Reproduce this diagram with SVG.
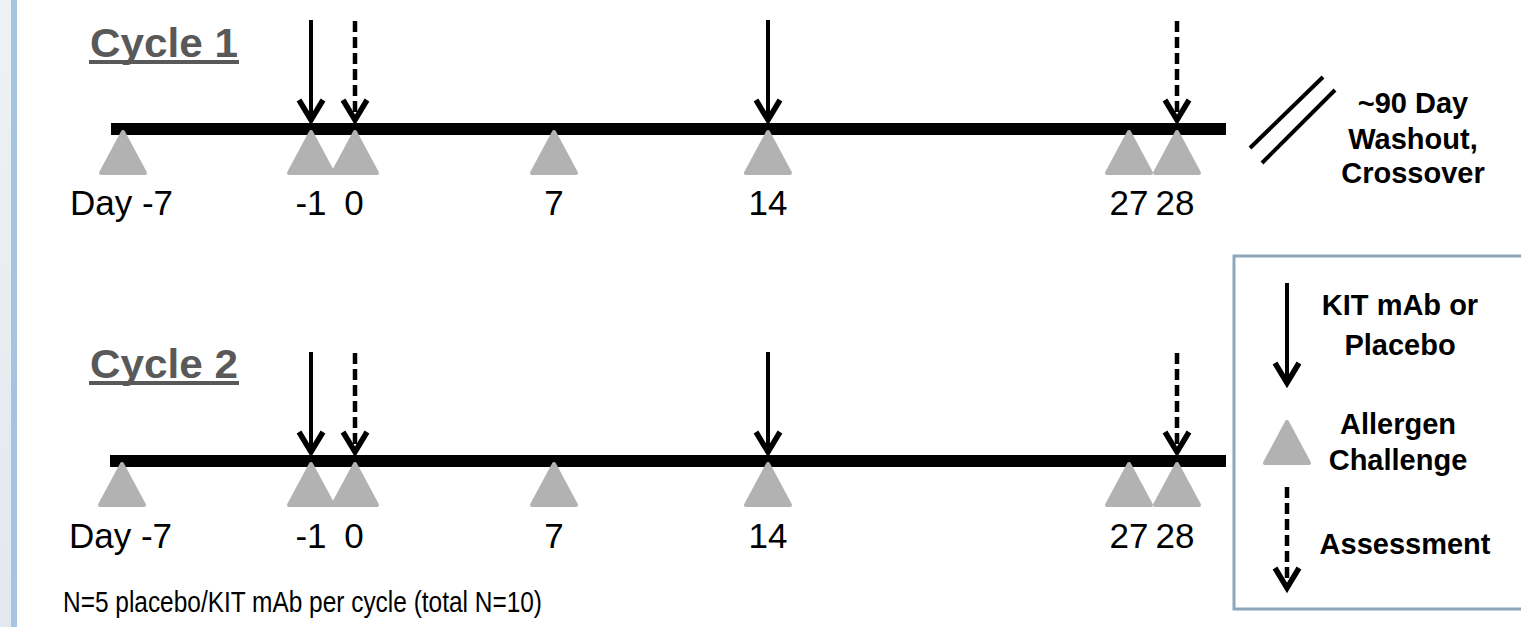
<svg xmlns="http://www.w3.org/2000/svg" width="1521" height="627" viewBox="0 0 1521 627">
  <defs>
    <linearGradient id="sideband" x1="0" y1="0" x2="0" y2="1">
      <stop offset="0" stop-color="#eef2f6"/>
      <stop offset="1" stop-color="#e2e8ee"/>
    </linearGradient>
    <style>
      .bar { fill: #000; }
      .tri { fill: #b2b2b2; stroke: #b2b2b2; stroke-width: 4; stroke-linejoin: round; }
      .shaft { stroke: #000; stroke-width: 4; fill: none; }
      .dash { stroke: #000; stroke-width: 4.5; fill: none; stroke-dasharray: 11 5; }
      .head { stroke: #000; stroke-width: 5.5; fill: none; stroke-linejoin: miter; }
      .title { font-family: "Liberation Sans", Arial, sans-serif; font-weight: bold; font-size: 40px; fill: #595959; }
      .day { font-family: "Liberation Sans", Arial, sans-serif; font-size: 35px; fill: #000; text-anchor: middle; }
      .note { font-family: "Liberation Sans", Arial, sans-serif; font-weight: bold; font-size: 29px; fill: #000; text-anchor: middle; }
      .foot { font-family: "Liberation Sans", Arial, sans-serif; font-size: 29px; fill: #000; }
    </style>
  </defs>

  <rect width="1521" height="627" fill="#ffffff"/>
  <!-- slide side band -->
  <rect x="0" y="0" width="11" height="627" fill="url(#sideband)"/>
  <rect x="11" y="0" width="6" height="627" fill="#a6c3df"/>

  <!-- Cycle 1 heading -->
  <g id="cycle1">
    <text class="title" x="90" y="57" textLength="148" lengthAdjust="spacingAndGlyphs">Cycle 1</text>
    <rect x="89" y="60" width="150" height="4" fill="#595959"/>
  </g>

  <g id="connectors">
    <!-- cycle 1 dosing (solid) and assessment (dashed) arrows -->
    <line class="shaft" x1="311" y1="20" x2="311" y2="118"/>
    <polyline class="head" points="299,100 311,120 323,100"/>
    <line class="dash" x1="355" y1="21" x2="355" y2="115"/>
    <polyline class="head" points="343,100 355,120 367,100"/>
    <line class="shaft" x1="768" y1="20" x2="768" y2="118"/>
    <polyline class="head" points="756,100 768,120 780,100"/>
    <line class="dash" x1="1177" y1="21" x2="1177" y2="115"/>
    <polyline class="head" points="1165,100 1177,120 1189,100"/>
    <!-- cycle 2 -->
    <line class="shaft" x1="311" y1="352" x2="311" y2="450"/>
    <polyline class="head" points="299,432 311,452 323,432"/>
    <line class="dash" x1="355" y1="353" x2="355" y2="447"/>
    <polyline class="head" points="343,432 355,452 367,432"/>
    <line class="shaft" x1="768" y1="352" x2="768" y2="450"/>
    <polyline class="head" points="756,432 768,452 780,432"/>
    <line class="dash" x1="1177" y1="353" x2="1177" y2="447"/>
    <polyline class="head" points="1165,432 1177,452 1189,432"/>
  </g>

  <g id="timeline1">
    <rect class="bar" x="111" y="123" width="1115" height="12"/>
    <polygon class="tri" points="123,132 101,173 145,173"/>
    <polygon class="tri" points="311,132 289,173 333,173"/>
    <polygon class="tri" points="355,132 333,173 377,173"/>
    <polygon class="tri" points="554,132 532,173 576,173"/>
    <polygon class="tri" points="768,132 746,173 790,173"/>
    <polygon class="tri" points="1129,132 1107,173 1151,173"/>
    <polygon class="tri" points="1177,132 1155,173 1199,173"/>
    <text class="day" x="70" y="215" style="text-anchor:start">Day -7</text>
    <text class="day" x="311" y="215">-1</text>
    <text class="day" x="354" y="215">0</text>
    <text class="day" x="554" y="215">7</text>
    <text class="day" x="768" y="215">14</text>
    <text class="day" x="1129" y="215">27</text>
    <text class="day" x="1175" y="215">28</text>
  </g>

  <g id="washout">
    <line x1="1250" y1="148" x2="1323" y2="77" stroke="#000" stroke-width="4"/>
    <line x1="1262" y1="163" x2="1335" y2="90" stroke="#000" stroke-width="4"/>
    <text class="note" x="1413" y="113">~90 Day</text>
    <text class="note" x="1413" y="149">Washout,</text>
    <text class="note" x="1413" y="183">Crossover</text>
  </g>

  <!-- Cycle 2 heading -->
  <g id="cycle2">
    <text class="title" x="90" y="378" textLength="148" lengthAdjust="spacingAndGlyphs">Cycle 2</text>
    <rect x="89" y="381" width="150" height="4" fill="#595959"/>
  </g>

  <g id="timeline2">
    <rect class="bar" x="110" y="455" width="1116" height="12"/>
    <polygon class="tri" points="122,464 100,505 144,505"/>
    <polygon class="tri" points="311,464 289,505 333,505"/>
    <polygon class="tri" points="355,464 333,505 377,505"/>
    <polygon class="tri" points="554,464 532,505 576,505"/>
    <polygon class="tri" points="768,464 746,505 790,505"/>
    <polygon class="tri" points="1129,464 1107,505 1151,505"/>
    <polygon class="tri" points="1177,464 1155,505 1199,505"/>
    <text class="day" x="69" y="548" style="text-anchor:start">Day -7</text>
    <text class="day" x="311" y="548">-1</text>
    <text class="day" x="354" y="548">0</text>
    <text class="day" x="554" y="548">7</text>
    <text class="day" x="768" y="548">14</text>
    <text class="day" x="1129" y="548">27</text>
    <text class="day" x="1175" y="548">28</text>
  </g>

  <!-- key -->
  <g id="legend">
    <rect x="1234" y="256" width="300" height="353" fill="#ffffff" stroke="#8ea6b9" stroke-width="3"/>
    <line class="shaft" x1="1287" y1="283" x2="1287" y2="381"/>
    <polyline class="head" points="1275,363 1287,383 1299,363"/>
    <text class="note" x="1400" y="315">KIT mAb or</text>
    <text class="note" x="1400" y="355">Placebo</text>
    <polygon class="tri" points="1287,422 1265,463 1309,463"/>
    <text class="note" x="1398" y="434">Allergen</text>
    <text class="note" x="1398" y="470">Challenge</text>
    <line class="dash" x1="1287" y1="487" x2="1287" y2="583"/>
    <polyline class="head" points="1275,568 1287,588 1299,568"/>
    <text class="note" x="1405" y="554">Assessment</text>
  </g>

  <text class="foot" x="63" y="612" textLength="479" lengthAdjust="spacingAndGlyphs">N=5 placebo/KIT mAb per cycle (total N=10)</text>
</svg>
